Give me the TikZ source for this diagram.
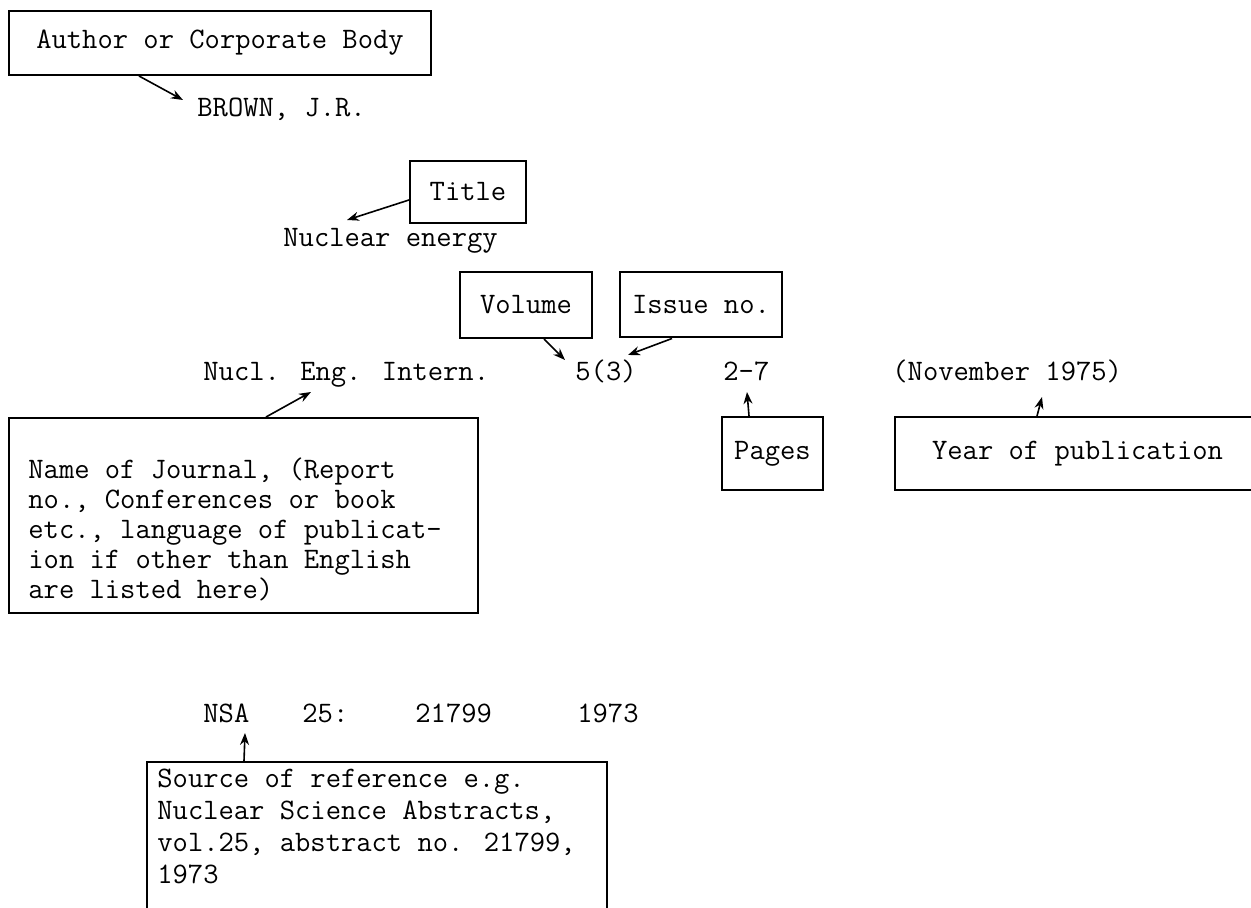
\documentclass[tikz,border=0pt]{standalone}
\usepackage{fontspec}
\usetikzlibrary{calc,arrows.meta}
\tikzset{
	entry/.style={inner sep=0pt, font=\ttfamily\fontsize{14.86pt}{15pt}\selectfont},
	fieldbox/.style={draw, line width=1pt, inner sep=0pt, font=\ttfamily\fontsize{14.86pt}{15pt}\selectfont},
	pointer/.style={line width=0.8pt, -{Stealth[length=6pt,width=4.5pt]}}
}

\begin{document}
\begin{tikzpicture}[x=0.5pt, y=-0.5pt]
			%%%%% START %%%%%
			\useasboundingbox (0, 0) rectangle (1251, 908);
			
			\node[fieldbox, minimum width=211pt, minimum height=32pt] (author) at (220, 43) {Author or Corporate Body};
			\node[entry, anchor=base west] (brown) at (197, 117) {BROWN, J.R.};
			\draw[pointer] ($(author.south west)+(131, 0)$) -- ($(brown.base west)+(-14, -17)$);
			
			\node[fieldbox, minimum width=58pt, minimum height=31pt] (title) at (468, 192) {Title};
			\node[entry, anchor=base west] (nuclear) at (283, 247) {Nuclear energy};
			\draw[pointer] ($(title.west)+(0, 8)$) -- ($(nuclear.base west)+(64, -27)$);
			
			\node[fieldbox, minimum width=66pt, minimum height=33pt] (volume) at (526, 305) {Volume};
			\node[fieldbox, minimum width=81pt, minimum height=32.5pt] (issue) at (701, 305) {Issue no.};
			
			\node[entry, anchor=base west] (journalname) at (203, 381) {Nucl. Eng. Intern.};
			\node[entry, anchor=base west] (volissue) at (575, 381) {5(3)};
			\node[entry, anchor=base west] (pagerange) at (723, 381) {2-7};
			\node[entry, anchor=base west] (pubdate) at (892, 381) {(November 1975)};
			
			\draw[pointer] ($(volume.south west)+(85, 0)$) -- ($(volissue.base west)+(-10, -21)$);
			\draw[pointer] ($(issue.south west)+(53, 0)$) -- ($(volissue.base west)+(53, -26)$);
			
			\node[fieldbox, minimum width=234.5pt, minimum height=97.5pt] (journal) at (243.5, 515.5) {};
			\node[entry, anchor=north west, align=left] (journaltext) at (28, 457) {Name of Journal, (Report\\no., Conferences or book\\etc., language of publicat-\\ion if other than English\\are listed here)};
			\draw[pointer] ($(journal.north west)+(258, 0)$) -- ($(journalname.base west)+(108, 11)$);
			
			\node[fieldbox, minimum width=50.5pt, minimum height=36.5pt] (pages) at (772.5, 453.5) {Pages};
			\draw[pointer] ($(pages.north west)+(28, 0)$) -- ($(pagerange.base west)+(24, 11)$);
			
			\node[fieldbox, minimum width=182.5pt, minimum height=36.5pt] (year) at (1077.5, 453.5) {Year of publication};
			\draw[pointer] ($(year.north west)+(143, 0)$) -- ($(pubdate.base west)+(150, 16)$);
			
			\node[entry, anchor=base west] (nsa) at (203, 722) {NSA};
			\node[entry, anchor=base west] (nsavol) at (302, 722) {25:};
			\node[entry, anchor=base west] (nsano) at (415, 722) {21799};
			\node[entry, anchor=base west] (nsayear) at (577, 722) {1973};
			
			\node[fieldbox, minimum width=230pt, minimum height=76.5pt] (source) at (377, 838.5) {};
			\node[entry, anchor=north west, align=left, font=\ttfamily\fontsize{14.86pt}{16pt}\selectfont] (sourcetext) at (157, 769) {Source of reference e.g.\\Nuclear Science Abstracts,\\vol.25, abstract no. 21799,\\1973};
			\draw[pointer] ($(source.north west)+(98, 0)$) -- ($(nsa.base west)+(42, 11)$);
			
			%%%%% END %%%%%
\end{tikzpicture}
\end{document}
